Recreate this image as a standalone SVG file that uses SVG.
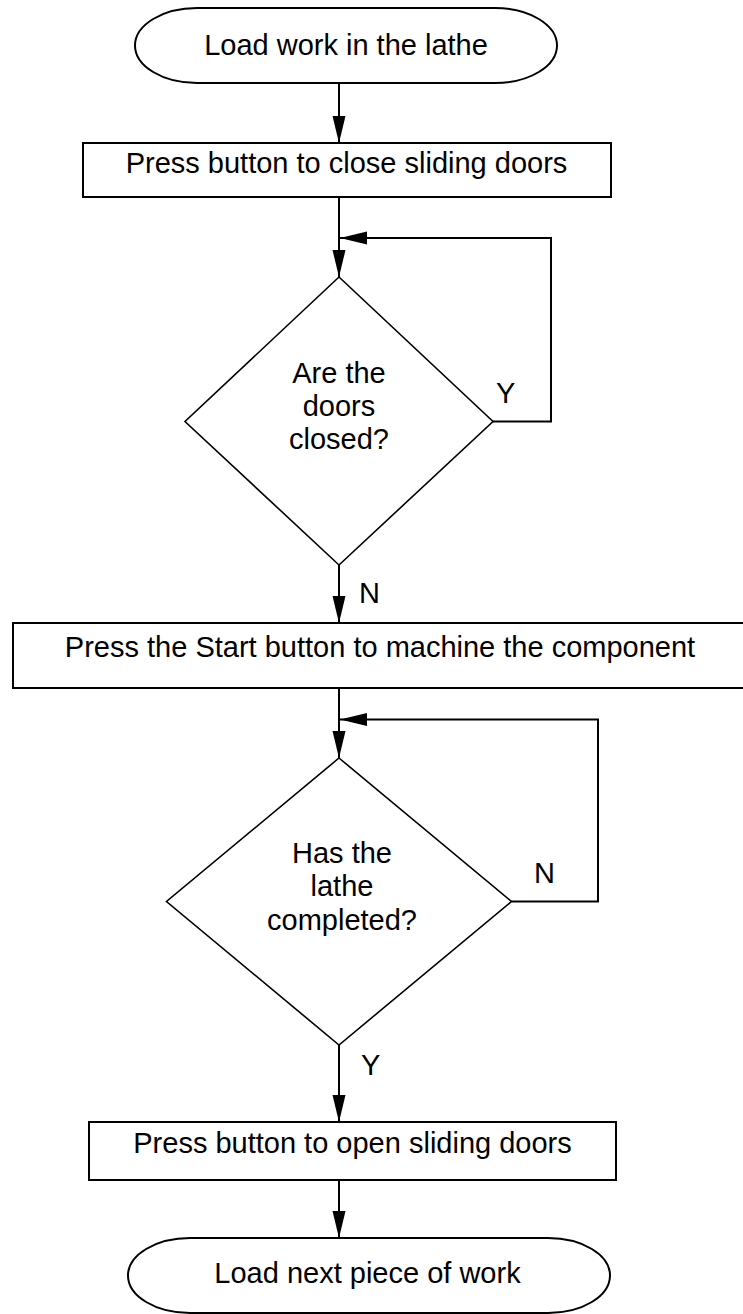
<svg xmlns="http://www.w3.org/2000/svg" width="743" height="1314" viewBox="0 0 743 1314">
<style>
.s{fill:#fff;stroke:#000;stroke-width:2}
.d{fill:#fff;stroke:#000;stroke-width:1.6}
.c{fill:none;stroke:#000;stroke-width:2}
text{font-family:"Liberation Sans",Arial,Helvetica,sans-serif;font-size:29px;fill:#000}
.m{text-anchor:middle}
</style>
<defs>
<marker id="ah" markerUnits="userSpaceOnUse" markerWidth="28" markerHeight="14" refX="27" refY="6.5" orient="auto">
<path d="M0,0 L27,6.5 L0,13 Z" fill="#000"/>
</marker>
</defs>
<rect width="743" height="1314" fill="#fff"/>
<g id="connectors">
<line class="c" x1="339" y1="83" x2="339" y2="143" marker-end="url(#ah)"/>
<line class="c" x1="339" y1="197" x2="339" y2="277" marker-end="url(#ah)"/>
<polyline class="c" points="493,421.5 551,421.5 551,238 340,238" marker-end="url(#ah)"/>
<line class="c" x1="339" y1="565" x2="339" y2="623" marker-end="url(#ah)"/>
<line class="c" x1="339" y1="688" x2="339" y2="758" marker-end="url(#ah)"/>
<polyline class="c" points="511.5,901.5 598,901.5 598,719.5 340,719.5" marker-end="url(#ah)"/>
<line class="c" x1="339" y1="1045" x2="339" y2="1122" marker-end="url(#ah)"/>
<line class="c" x1="339" y1="1180" x2="339" y2="1238" marker-end="url(#ah)"/>
<text x="496" y="403">Y</text>
<text x="359" y="603">N</text>
<text x="534" y="883">N</text>
<text x="361" y="1075">Y</text>
</g>
<g id="start">
<path class="s" d="M197,8 H495 A62,37.5 0 0 1 495,83 H197 A62,37.5 0 0 1 197,8 Z"/>
<text class="m" x="346" y="55">Load work in the lathe</text>
</g>
<g id="close-doors">
<rect class="s" x="83" y="143" width="528" height="54"/>
<text class="m" x="346.5" y="173">Press button to close sliding doors</text>
</g>
<g id="doors-closed">
<polygon class="d" points="339,277 493,421.5 339,565 185,421.5"/>
<text class="m" x="339" y="383">Are the</text>
<text class="m" x="339" y="416">doors</text>
<text class="m" x="339" y="449">closed?</text>
</g>
<g id="start-machine">
<rect class="s" x="13" y="623" width="740" height="65"/>
<text class="m" x="380" y="657">Press the Start button to machine the component</text>
</g>
<g id="lathe-completed">
<polygon class="d" points="339,758 511.5,901.5 339,1045 166.5,901.5"/>
<text class="m" x="342" y="863">Has the</text>
<text class="m" x="342" y="896">lathe</text>
<text class="m" x="342" y="930">completed?</text>
</g>
<g id="open-doors">
<rect class="s" x="89" y="1122" width="527" height="58"/>
<text class="m" x="352.5" y="1153">Press button to open sliding doors</text>
</g>
<g id="end">
<path class="s" d="M190,1238 H548 A62,37.5 0 0 1 548,1313 H190 A62,37.5 0 0 1 190,1238 Z"/>
<text class="m" x="367.5" y="1283">Load next piece of work</text>
</g>
</svg>
